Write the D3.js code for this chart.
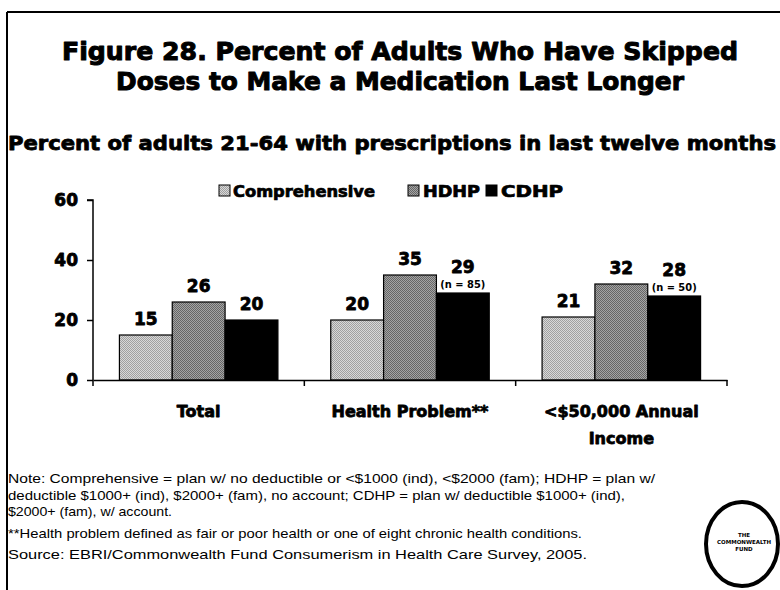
<!DOCTYPE html>
<html><head><meta charset="utf-8">
<script src="https://cdn.jsdelivr.net/npm/d3@7"></script>
<style>
html,body{margin:0;padding:0;background:#fff;}
svg{display:block;}
.heavy{stroke:#000;stroke-linejoin:round;}
</style></head>
<body>
<svg id="chart" width="780" height="590"></svg>
<script>
const categories = ["Total", "Health Problem**", "<$50,000 Annual Income"];
const categoryLines = [["Total"], ["Health Problem**"], ["<$50,000 Annual", "Income"]];
const series = ["Comprehensive", "HDHP", "CDHP"];
const comprehensive = [15, 20, 21];
const hdhp = [26, 35, 32];
const cdhp = [20, 29, 28];
const cdhpNotes = [null, "(n = 85)", "(n = 50)"];
const yTicks = [0, 20, 40, 60];
const titleLines = ["Figure 28. Percent of Adults Who Have Skipped", "Doses to Make a Medication Last Longer"];
const subtitle = "Percent of adults 21-64 with prescriptions in last twelve months";
const notes = [
  "Note: Comprehensive = plan w/ no deductible or <$1000 (ind), <$2000 (fam); HDHP = plan w/",
  "deductible $1000+ (ind), $2000+ (fam), no account; CDHP = plan w/ deductible $1000+ (ind),",
  "$2000+ (fam), w/ account.",
  "**Health problem defined as fair or poor health or one of eight chronic health conditions.",
  "Source: EBRI/Commonwealth Fund Consumerism in Health Care Survey, 2005."
];
const logoLines = ["THE", "COMMONWEALTH", "FUND"];

const values = [comprehensive, hdhp, cdhp];
const heavy = "'DejaVu Sans', 'Liberation Sans', sans-serif";
const narrow = "'Liberation Sans Narrow', 'Liberation Sans', Arial, sans-serif";

const svg = d3.select("#chart");

// patterns to mimic stipple
const defs = svg.append("defs");
function stipple(id, a, b) {
  const p = defs.append("pattern").attr("id", id).attr("width", 2).attr("height", 2).attr("patternUnits", "userSpaceOnUse");
  p.append("rect").attr("width", 2).attr("height", 2).attr("fill", a);
  p.append("rect").attr("width", 1).attr("height", 1).attr("fill", b);
  p.append("rect").attr("x", 1).attr("y", 1).attr("width", 1).attr("height", 1).attr("fill", b);
}
stipple("pComp", "#d8d8d8", "#a0a0a0");
stipple("pHdhp", "#a4a4a4", "#666666");
const fills = ["url(#pComp)", "url(#pHdhp)", "#000"];

// frame
svg.append("line").attr("x1", 7).attr("x2", 780).attr("y1", 12).attr("y2", 12).attr("stroke", "#000").attr("stroke-width", 2);
svg.append("line").attr("x1", 7).attr("x2", 7).attr("y1", 12).attr("y2", 590).attr("stroke", "#000").attr("stroke-width", 2);

// title
const tW = [676, 568];
titleLines.forEach((t, i) => {
  svg.append("text").attr("class", "heavy").attr("stroke-width", 1).attr("x", 400).attr("y", 60 + i * 30).attr("text-anchor", "middle")
    .attr("font-family", heavy).attr("font-weight", "bold").attr("font-size", 25)
    .attr("textLength", tW[i]).attr("lengthAdjust", "spacingAndGlyphs").text(t);
});
svg.append("text").attr("class", "heavy").attr("stroke-width", 0.8).attr("x", 8).attr("y", 150)
  .attr("font-family", heavy).attr("font-weight", "bold").attr("font-size", 19)
  .attr("textLength", 768).attr("lengthAdjust", "spacingAndGlyphs").text(subtitle);

// scales
const x = d3.scaleBand().domain(categories).range([93, 727]).paddingInner(0).paddingOuter(0);
const xs = d3.scaleBand().domain(series).range([0, x.bandwidth()]).paddingInner(0).paddingOuter(0.5);
const y = d3.scaleLinear().domain([0, 60]).range([380, 200]);

// y axis
const yAxis = svg.append("g").attr("transform", "translate(93,0)")
  .call(d3.axisLeft(y).tickValues(yTicks).tickSize(6).tickPadding(9));
yAxis.select(".domain").attr("stroke", "#000").attr("stroke-width", 1.5).attr("d", "M-6,200H0V380");
yAxis.selectAll(".tick line").attr("stroke", "#000").attr("stroke-width", 1.5);
yAxis.selectAll(".tick text").attr("class", "heavy").attr("stroke-width", 0.8)
  .attr("font-family", heavy).attr("font-weight", "bold").attr("font-size", 17).attr("fill", "#000");

// bars
categories.forEach((c, ci) => {
  series.forEach((s, si) => {
    const v = values[si][ci];
    svg.append("rect").attr("x", x(c) + xs(s)).attr("y", y(v))
      .attr("width", xs.bandwidth()).attr("height", y(0) - y(v))
      .attr("fill", fills[si]).attr("stroke", "#000").attr("stroke-width", 1.2);
    const cx = x(c) + xs(s) + xs.bandwidth() / 2;
    const note = si === 2 ? cdhpNotes[ci] : null;
    svg.append("text").attr("class", "heavy").attr("stroke-width", 0.8).attr("x", cx).attr("y", y(v) - (note ? 20 : 10)).attr("text-anchor", "middle")
      .attr("font-family", heavy).attr("font-weight", "bold").attr("font-size", 17).text(v);
    if (note) {
      svg.append("text").attr("x", cx).attr("y", y(v) - 5).attr("text-anchor", "middle")
        .attr("font-family", heavy).attr("font-weight", "bold").attr("font-size", 10)
        .attr("textLength", 45).attr("lengthAdjust", "spacingAndGlyphs").text(note);
    }
  });
});

// x axis
const xAxis = svg.append("g").attr("transform", "translate(0,380)")
  .call(d3.axisBottom(x).tickValues([]).tickSizeOuter(0));
xAxis.select(".domain").attr("stroke", "#000").attr("stroke-width", 1.5);
[93, 727].concat(categories.slice(1).map(c => x(c))).forEach(px => {
  svg.append("line").attr("x1", px).attr("x2", px).attr("y1", 380).attr("y2", 386).attr("stroke", "#000").attr("stroke-width", 1.5);
});
categories.forEach((c, ci) => {
  categoryLines[ci].forEach((ln, li) => {
    svg.append("text").attr("class", "heavy").attr("stroke-width", 0.8).attr("x", x(c) + x.bandwidth() / 2).attr("y", 417 + li * 27).attr("text-anchor", "middle")
      .attr("font-family", heavy).attr("font-weight", "bold").attr("font-size", 16).text(ln);
  });
});

// legend
const legItems = [
  {sx: 219, tx: 233, tw: 142},
  {sx: 408, tx: 423, tw: 57},
  {sx: 486, tx: 501, tw: 62}
];
series.forEach((s, i) => {
  svg.append("rect").attr("x", legItems[i].sx).attr("y", 185).attr("width", 11).attr("height", 11)
    .attr("fill", fills[i]).attr("stroke", "#000").attr("stroke-width", 1);
  svg.append("text").attr("class", "heavy").attr("stroke-width", 0.7).attr("x", legItems[i].tx).attr("y", 197)
    .attr("font-family", heavy).attr("font-weight", "bold").attr("font-size", 15)
    .attr("textLength", legItems[i].tw).attr("lengthAdjust", "spacingAndGlyphs").text(s);
});

// notes
const noteY = [483, 500, 516, 538, 559];
const noteW = [647, 617, 164, 574, 579];
notes.forEach((n, i) => {
  svg.append("text").attr("x", 8).attr("y", noteY[i])
    .attr("font-family", narrow).attr("font-size", 13)
    .attr("textLength", noteW[i]).attr("lengthAdjust", "spacingAndGlyphs").text(n);
});

// logo
svg.append("ellipse").attr("cx", 742).attr("cy", 544).attr("rx", 36).attr("ry", 42)
  .attr("fill", "none").attr("stroke", "#000").attr("stroke-width", 4);
logoLines.forEach((t, i) => {
  svg.append("text").attr("x", 744).attr("y", 537 + i * 7).attr("text-anchor", "middle")
    .attr("font-family", heavy).attr("font-weight", "bold").attr("font-size", 5.5).text(t);
});
</script>
</body></html>
